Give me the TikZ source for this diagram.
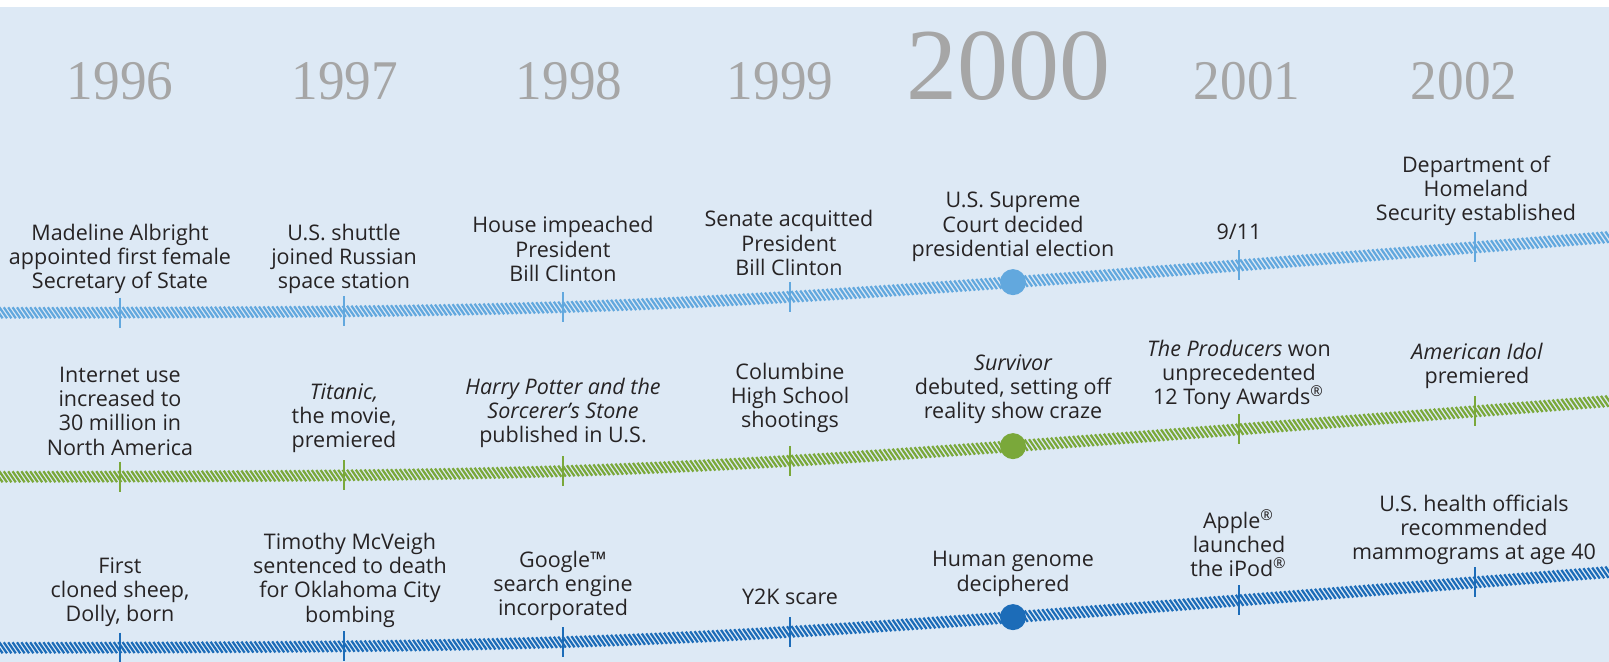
\documentclass[tikz,border=0pt]{standalone}
\usepackage{fontspec}
\usepackage{graphicx}
\setmainfont{Open Sans}
\newfontfamily\yearfont{Liberation Serif}

\definecolor{pagebg}{HTML}{DDE9F5}
\definecolor{txt}{HTML}{262324}
\definecolor{yeargray}{HTML}{A6A6A6}
\definecolor{skyline}{HTML}{62A8DE}
\definecolor{grassline}{HTML}{7AA83A}
\definecolor{navyline}{HTML}{1C6CB8}

% one drawing unit is 0.25pt
\tikzset{
  hatchstroke/.style={line width=0.56pt,#1},
  tickmark/.style={line width=0.5pt,#1},
  eventdot/.style={circle,fill=#1,inner sep=0pt,minimum size=6.5pt},
  lbl/.style={font=\fontsize{5.375}{6.075}\selectfont,align=center,text=txt,inner sep=0pt},
  yr/.style={font=\yearfont\fontsize{14}{14}\selectfont,text=yeargray,anchor=base,inner sep=0pt},
  bigyr/.style={font=\yearfont\fontsize{25.5}{25.5}\selectfont,text=yeargray,anchor=base,inner sep=0pt},
}

\begin{document}
\begin{tikzpicture}[x=0.25pt,y=-0.25pt,
  declare function={rise(\t)=11.55*ln(1+exp((\t-623)/150));}]
\useasboundingbox (0,0) rectangle (1609,662);
\clip (0,0) rectangle (1609,662);
\fill[white] (0,0) rectangle (1609,662);
\fill[pagebg] (0,7) rectangle (1609,662);

% year headings
\node[yr] (y1996) at (120,100) {\scalebox{0.95}[1]{1996}};
\node[yr] (y1997) at (345,100) {\scalebox{0.95}[1]{1997}};
\node[yr] (y1998) at (569,100) {\scalebox{0.95}[1]{1998}};
\node[yr] (y1999) at (780,100) {\scalebox{0.95}[1]{1999}};
\node[bigyr] (y2000) at (1008,100) {2000};
\node[yr] (y2001) at (1247,100) {\scalebox{0.95}[1]{2001}};
\node[yr] (y2002) at (1464,100) {\scalebox{0.95}[1]{2002}};

% hatched timelines: short slanted strokes along a gently rising curve
\draw[hatchstroke=skyline] foreach \x in {-10,-5.6,...,1620}
  { ({\x-3.8},{313-rise(\x)-5.5}) -- ++(7.6,11) };
\draw[hatchstroke=grassline] foreach \x in {-10,-5.6,...,1620}
  { ({\x-3.8},{477-rise(\x)-5.5}) -- ++(7.6,11) };
\draw[hatchstroke=navyline] foreach \x in {-10,-5.6,...,1620}
  { ({\x-3.8},{648-rise(\x)-5.5}) -- ++(7.6,11) };

% year ticks and the 2000 markers
\foreach \row/\base/\col in {a/313/skyline,b/477/grassline,c/648/navyline}{
  \foreach \i/\x in {1/120,2/344,3/563,4/790,6/1239,7/1475}{
    \coordinate (\row\i) at (\x,{\base-rise(\x)});
    \draw[tickmark=\col] (\row\i) ++(0,-15) -- ++(0,30);
  }
  \node[eventdot=\col] (\row5) at (1013,{\base-rise(1013)}) {};
}

% ---- politics events ----
\node[lbl] (p1) at (120,259) {Madeline Albright\\appointed first female\\Secretary of State};
\node[lbl] (p2) at (344,259) {U.S. shuttle\\joined Russian\\space station};
\node[lbl] (p3) at (563,249) {House impeached\\President\\Bill Clinton};
\node[lbl] (p4) at (789,243) {Senate acquitted\\President\\Bill Clinton};
\node[lbl] (p5) at (1013,227) {U.S. Supreme\\Court decided\\presidential election};
\node[lbl] (p6) at (1239,232) {9/11};
\node[lbl] (p7) at (1476,191) {Department of\\Homeland\\Security established};

% ---- culture events ----
\node[lbl] (k1) at (120,411) {Internet use\\increased to\\30 million in\\North America};
\node[lbl] (k2) at (344,418) {\itshape Titanic,\\the movie,\\premiered};
\node[lbl] (k3) at (563,413) {\itshape Harry Potter and the\\\itshape Sorcerer’s Stone\\published in U.S.};
\node[lbl] (k4) at (790,398) {Columbine\\High School\\shootings};
\node[lbl] (k5) at (1013,389) {\itshape Survivor\\debuted, setting off\\reality show craze};
\node[lbl] (k6) at (1239,375) {\textit{The Producers} won\\unprecedented\\12 Tony Awards\textsuperscript{®}};
\node[lbl] (k7) at (1477,366) {\itshape American Idol\\premiered};

% ---- science and business events ----
\node[lbl] (s1) at (120,592) {First\\cloned sheep,\\Dolly, born};
\node[lbl] (s2) at (350,580) {Timothy McVeigh\\sentenced to death\\for Oklahoma City\\bombing};
\node[lbl] (s3) at (563,586) {Google™\\search engine\\incorporated};
\node[lbl] (s4) at (790,597) {Y2K scare};
\node[lbl] (s5) at (1013,574) {Human genome\\deciphered};
\node[lbl] (s6) at (1239,543) {Apple\textsuperscript{®}\\launched\\the iPod\textsuperscript{®}};
\node[lbl] (s7) at (1474,530) {U.S. health officials\\recommended\\mammograms at age 40};
\end{tikzpicture}
\end{document}
